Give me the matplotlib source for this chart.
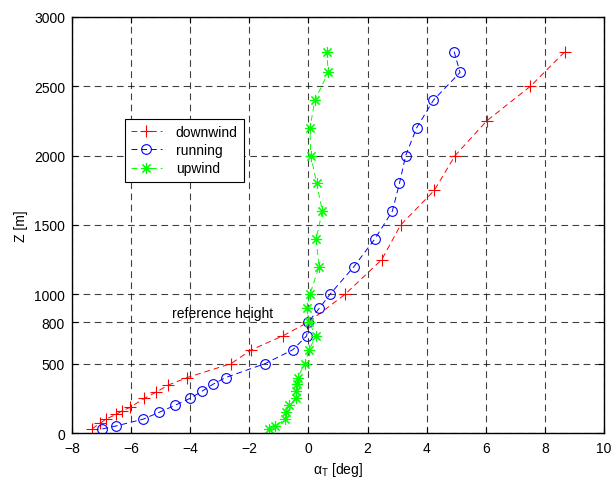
import numpy as np
import matplotlib
matplotlib.use('Agg')
import matplotlib.pyplot as plt

plt.rcParams['font.family'] = ['Liberation Sans', 'DejaVu Sans']
plt.rcParams['mathtext.fontset'] = 'custom'
plt.rcParams['mathtext.rm'] = 'Liberation Sans'
plt.rcParams['mathtext.it'] = 'Liberation Sans'

#%% data
z_down = [30, 70, 100, 135, 160, 185, 250, 295, 345, 400, 500, 600, 700, 800,
          1000, 1250, 1500, 1750, 2000, 2250, 2500, 2750]
a_down = [-7.32, -7.05, -6.85, -6.5, -6.3, -6.03, -5.55, -5.15, -4.75, -4.1,
          -2.62, -1.93, -0.87, 0.0, 1.24, 2.48, 3.12, 4.26, 4.96, 6.03, 7.51, 8.68]

z_run = [30, 50, 100, 150, 200, 250, 300, 350, 400, 500, 600, 700, 800, 900,
         1000, 1200, 1400, 1600, 1800, 2000, 2200, 2400, 2600, 2750]
a_run = [-6.97, -6.52, -5.59, -5.04, -4.51, -4.0, -3.61, -3.24, -2.8, -1.47,
         -0.53, -0.06, 0.0, 0.37, 0.73, 1.54, 2.25, 2.84, 3.08, 3.29, 3.66,
         4.23, 5.13, 4.93]

z_up = z_run
a_up = [-1.34, -1.12, -0.78, -0.77, -0.65, -0.42, -0.41, -0.40, -0.36, -0.13,
        0.03, 0.24, 0.03, -0.06, 0.05, 0.36, 0.26, 0.47, 0.28, 0.08, 0.05,
        0.22, 0.67, 0.62]

xticks = np.arange(-8, 11, 2)
yticks = [0, 500, 800, 1000, 1500, 2000, 2500, 3000]

#%% plotting
fig = plt.figure(figsize=(6.12, 4.81), dpi=100)
ax = fig.add_axes([0.1176, 0.0977, 0.8693, 0.865])

dash = (0, (6, 4))
asterisk = (8, 2, 0)   # matlab style '*'
ax.plot(a_down, z_down, color='r', ls=dash, lw=0.7, marker='+', ms=8,
        mew=0.8, label='downwind')
ax.plot(a_run, z_run, color='b', ls=dash, lw=0.7, marker='o', ms=7,
        mfc='none', mew=0.8, label='running')
ax.plot(a_up, z_up, color=(0, 1, 0), ls=dash, lw=0.7, marker=asterisk, ms=8,
        mew=0.8, label='upwind')

ax.text(-4.6, 865, 'reference height', fontsize=10, va='center', ha='left')

ax.set_xlim(-8, 10)
ax.set_ylim(0, 3000)
ax.set_xticks(xticks)
ax.set_yticks(yticks)
ax.tick_params(direction='in', labelsize=10, length=4, top=True, right=True)
ax.tick_params(axis='x', pad=6)
ax.tick_params(axis='y', pad=5)
ax.grid(True, color='k', ls=(0, (6, 4)), lw=0.8, alpha=0.75)
for s in ax.spines.values():
    s.set_linewidth(1.0)

ax.set_xlabel(r'$\alpha_T$ [deg]', fontsize=10, labelpad=3)
ax.set_ylabel('Z [m]', fontsize=10)

leg = ax.legend(loc='upper left', bbox_to_anchor=(0.0996, 0.755), fontsize=10,
                fancybox=False, framealpha=1, edgecolor='k', handlelength=2.2,
                handletextpad=1.0, borderpad=0.45, labelspacing=0.3,
                borderaxespad=0)
leg.get_frame().set_linewidth(0.8)

fig.savefig('out.png', dpi=100)
